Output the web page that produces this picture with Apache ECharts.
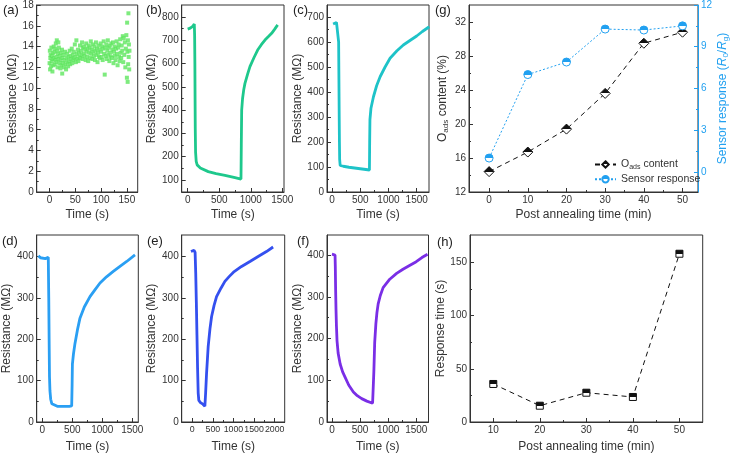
<!DOCTYPE html>
<html>
<head>
<meta charset="utf-8">
<script src="https://cdn.jsdelivr.net/npm/echarts@6/dist/echarts.min.js"></script>
<style>
html, body { margin: 0; padding: 0; background: #fff; }
#chart { width: 732px; height: 456px; }
</style>
</head>
<body>
<div id="chart"></div>
<script>
// (a) resistance in air, noisy scatter [time s, MΩ]
const aPoints = [
  [0,12.4],[0.5,13.6],[1,11.8],[1.5,12.9],[2,13.2],[3,12.1],[3.5,13.9],[4,12.6],[5,13.1],[5.5,11.6],
  [6,12.8],[7,13.4],[7.5,12.2],[8,14.0],[9,12.9],[9.5,13.5],[10,12.3],[11,13.8],[11.5,12.7],[12,14.3],
  [13,13.0],[13.5,12.5],[14,14.6],[15,13.6],[15.5,12.0],[16,13.3],[17,14.4],[17.5,12.8],[18,13.9],[19,12.4],
  [20,13.1],[21,11.9],[21.5,12.7],[22,13.4],[23,12.2],[24,13.7],[24.5,11.4],[25,12.9],[26,12.4],[27,13.2],
  [28,12.0],[29,12.7],[30,13.5],[31,12.3],[32,11.8],[33,12.9],[34,13.3],[35,12.5],[36,12.1],[37,13.0],
  [38,12.6],[39,13.6],[40,12.3],[41,13.1],[42,12.8],[43,13.8],[44,12.4],[45,13.2],[46,12.7],[47,13.5],
  [48,12.9],[49,14.2],[50,13.0],[51,12.5],[52,14.6],[53,13.3],[54,12.8],[55,13.7],[56,12.6],[57,13.4],
  [58,13.0],[59,14.1],[60,12.9],[61,13.6],[62,13.2],[63,14.4],[64,12.8],[65,13.9],[66,13.3],[67,14.0],
  [68,13.1],[69,13.7],[70,12.7],[71,14.3],[72,13.5],[73,13.0],[74,13.8],[75,12.6],[76,14.1],[77,13.4],
  [78,13.9],[79,12.9],[80,14.5],[81,13.3],[82,13.7],[83,12.8],[84,14.2],[85,13.5],[86,13.1],[87,14.0],
  [88,12.7],[89,13.6],[90,14.4],[91,13.2],[92,13.8],[93,12.5],[94,13.4],[95,14.1],[96,13.0],[97,13.7],
  [98,12.9],[99,14.3],[100,13.5],[101,13.0],[102,14.0],[103,12.7],[104,13.8],[105,14.5],[106,13.3],[107,11.3],
  [108,13.9],[109,13.1],[110,14.2],[111,12.8],[112,13.6],[113,14.6],[114,13.2],[115,13.9],[116,12.6],[117,14.1],
  [118,13.4],[119,13.0],[120,14.3],[121,12.9],[122,13.7],[123,14.4],[124,12.4],[125,13.5],[126,14.0],[127,13.1],
  [128,12.7],[129,13.8],[130,14.5],[131,13.3],[132,12.2],[133,13.9],[134,14.2],[135,13.0],[136,12.6],[137,14.7],
  [138,13.4],[139,12.9],[140,14.1],[141,13.6],[142,15.0],[143,12.5],[144,14.8],[145,13.2],[146,14.4],[147,12.0],
  [148,13.8],[149,15.1],[150,11.0],[150.5,16.3],[151,13.5],[151.5,10.6],[152,14.6],[152.5,12.3],[153,17.2],[153.5,13.0],
  [154,14.2],[154.5,11.8],[155,13.6]
];

// (b)-(f) response / recovery curves [time s, MΩ]
const bPoints = [
  [0,748],[40,752],[80,760],[105,770],[110,720],[114,600],[117,450],[120,320],[125,220],[135,180],
  [150,165],[200,152],[326,136],[450,127],[591,120],[750,110],[845,104],[850,250],[856,400],[870,450],
  [890,490],[908,515],[950,555],[987,587],[1050,625],[1109,658],[1170,682],[1225,701],[1280,716],[1331,730],
  [1380,748],[1426,766]
];
const cPoints = [
  [20,672],[50,680],[80,678],[110,675],[118,600],[123,450],[128,300],[132,200],[136,130],[145,106],
  [200,103],[300,99],[400,96],[500,93],[600,90],[663,88],[667,200],[672,290],[690,335],[734,381],
  [790,425],[852,461],[940,500],[1028,535],[1150,565],[1263,588],[1380,606],[1499,624],[1600,642],[1721,661]
];
const dPoints = [
  [-65,402],[-30,397],[0,396],[50,395],[100,398],[108,300],[114,200],[120,110],[128,75],[140,55],
  [160,44],[183,40],[250,38],[350,38],[450,38],[490,39],[497,90],[502,140],[520,165],[545,190],
  [585,222],[628,251],[700,278],[795,303],[880,320],[962,336],[1070,351],[1183,364],[1300,377],[1407,388],
  [1545,404]
];
const ePoints = [
  [-30,412],[10,412],[45,415],[70,410],[85,360],[100,290],[115,210],[130,130],[145,70],[160,52],
  [200,47],[260,43],[307,38],[325,70],[348,118],[387,182],[430,225],[470,255],[530,282],[590,303],
  [700,324],[792,340],[900,352],[1000,362],[1196,376],[1400,388],[1598,400],[1800,412],[1961,423]
];
const fPoints = [
  [0,402],[30,402],[55,400],[60,370],[65,320],[72,270],[80,230],[90,195],[110,165],[146,139],
  [190,120],[235,107],[300,88],[381,72],[450,63],[529,56],[620,50],[723,45],[735,46],[745,120],
  [760,190],[781,235],[800,262],[822,283],[860,303],[910,322],[1028,342],[1150,356],[1263,366],[1380,375],
  [1499,384],[1600,394],[1700,402]
];

// (g) O_ads content and sensor response vs post annealing time
const gTime = [0, 10, 20, 30, 40, 50];
const gOads = [14.4, 16.7, 19.4, 23.6, 29.5, 30.8];
const gResponse = [1.0, 7.0, 7.9, 10.27, 10.2, 10.5];

// (h) response time vs post annealing time
const hTime = [10, 20, 30, 40, 50];
const hResponseTime = [35.7, 15.3, 27.5, 23.5, 158];

// tick values
const tickA_x = [0, 50, 100, 150], minorA_x = [-25, 25, 75, 125];
const tickA_y = [0, 2, 4, 6, 8, 10, 12, 14, 16, 18], minorA_y = [1, 3, 5, 7, 9, 11, 13, 15, 17];
const tick1500 = [0, 500, 1000, 1500], minor1500 = [250, 750, 1250];
const tick2000 = [0, 500, 1000, 1500, 2000], minor2000 = [250, 750, 1250, 1750];
const tickB_y = [100, 200, 300, 400, 500, 600, 700, 800], minorB_y = [150, 250, 350, 450, 550, 650, 750];
const tickC_y = [0, 100, 200, 300, 400, 500, 600, 700], minorC_y = [50, 150, 250, 350, 450, 550, 650];
const tickD_y = [0, 100, 200, 300, 400], minorD_y = [50, 150, 250, 350];
const tickG_x = [0, 10, 20, 30, 40, 50], minorG_x = [5, 15, 25, 35, 45];
const tickG_yl = [12, 16, 20, 24, 28, 32], minorG_yl = [14, 18, 22, 26, 30];
const tickG_yr = [0, 3, 6, 9, 12], minorG_yr = [-1.5, 1.5, 4.5, 7.5, 10.5];
const tickH_x = [10, 20, 30, 40, 50], minorH_x = [15, 25, 35, 45];
const tickH_y = [0, 50, 100, 150], minorH_y = [25, 75, 125];

const FONT = '"Liberation Sans", Arial, sans-serif';
const INK = '#333';
const BLUE = '#21a0f0';

const chart = echarts.init(document.getElementById('chart'));

const grids = [];
const xAxes = [];
const yAxes = [];
const series = [];

const subRich = (color, size) => ({
  n: { fontSize: size, fontFamily: FONT, color, lineHeight: size + 2 },
  i: { fontSize: size, fontFamily: FONT, color, lineHeight: size + 2, fontStyle: 'italic' },
  s: { fontSize: size * 0.67, fontFamily: FONT, color, lineHeight: size * 0.67, verticalAlign: 'bottom' }
});

// main axis (labels + major ticks) and an overlaid one for minor ticks
function addAxes(list, gridIndex, cfg) {
  const color = cfg.color || INK;
  list.push({
    type: 'value', gridIndex, min: cfg.min, max: cfg.max, position: cfg.position,
    name: cfg.name, nameLocation: 'middle', nameGap: cfg.nameGap,
    nameTextStyle: { fontSize: 12, color, fontFamily: FONT, rich: subRich(color, 12) },
    axisLine: { show: true, onZero: false, lineStyle: { color, width: 1 } },
    axisTick: { show: true, inside: true, length: 4, customValues: cfg.majors, lineStyle: { color } },
    axisLabel: {
      show: true, customValues: cfg.majors, fontSize: cfg.labelSize || 10, color, margin: 3, fontFamily: FONT,
      hideOverlap: false, formatter: (v) => String(v)
    },
    splitLine: { show: false }
  });
  const idx = list.length - 1;
  list.push({
    type: 'value', gridIndex, min: cfg.min, max: cfg.max, position: cfg.position,
    axisLine: { show: false, onZero: false },
    axisTick: { show: true, inside: true, length: 2, customValues: cfg.minors, lineStyle: { color } },
    axisLabel: { show: false },
    splitLine: { show: false }
  });
  return idx;
}

function panel(box, x, y) {
  grids.push({
    left: box[0], top: box[1], width: box[2], height: box[3],
    show: true, borderColor: INK, borderWidth: 1, backgroundColor: 'transparent'
  });
  const g = grids.length - 1;
  const xi = addAxes(xAxes, g, Object.assign({ position: 'bottom', name: 'Time (s)', nameGap: 17 }, x));
  const yi = addAxes(yAxes, g, Object.assign({ position: 'left', name: 'Resistance (MΩ)' }, y));
  return { g, xi, yi };
}

function curve(p, data, color) {
  series.push({
    type: 'line', xAxisIndex: p.xi, yAxisIndex: p.yi, data,
    symbol: 'none', lineStyle: { color, width: 2.8 }, silent: true
  });
}

// half filled marker, top half solid like Origin's "half up" symbols
const halfFill = (c) => new echarts.graphic.LinearGradient(0, 0, 0, 1, [
  { offset: 0, color: c }, { offset: 0.5, color: c },
  { offset: 0.5, color: '#fff' }, { offset: 1, color: '#fff' }
]);

/*
* Top row
*/
const pa = panel([36.7, 5, 101, 187],
  { min: -25, max: 171, majors: tickA_x, minors: minorA_x },
  { min: 0, max: 18, majors: tickA_y, minors: minorA_y, nameGap: 17 });
series.push({
  type: 'scatter', xAxisIndex: pa.xi, yAxisIndex: pa.yi, data: aPoints,
  symbol: 'emptyRect', symbolSize: 2, itemStyle: { color: '#5ee65e', borderWidth: 0.7 }, silent: true
});

const pb = panel([181.7, 5, 102.3, 187],
  { min: -95, max: 1527, majors: tick1500, minors: minor1500 },
  { min: 48.5, max: 851.5, majors: tickB_y, minors: minorB_y, nameGap: 22 });
curve(pb, bPoints, '#1ec88c');

const pc = panel([327, 5, 102, 187],
  { min: -88, max: 1717, majors: tick1500, minors: minor1500 },
  { min: 0, max: 748, majors: tickC_y, minors: minorC_y, nameGap: 21 });
curve(pc, cPoints, '#1ec3c8');

// (g) double y axis
grids.push({ left: 469, top: 5, width: 229, height: 187, show: true, borderColor: INK, borderWidth: 1, backgroundColor: 'transparent' });
const gg = grids.length - 1;
const gx = addAxes(xAxes, gg, { position: 'bottom', min: -5.2, max: 54, majors: tickG_x, minors: minorG_x,
  name: 'Post annealing time (min)', nameGap: 17 });
const gyl = addAxes(yAxes, gg, { position: 'left', min: 12, max: 34, majors: tickG_yl, minors: minorG_yl,
  name: '{n|O}{s|ads}{n| content (%)}', nameGap: 19 });
const gyr = addAxes(yAxes, gg, { position: 'right', min: -1.44, max: 12, majors: tickG_yr, minors: minorG_yr,
  color: BLUE, name: '{n|Sensor response (}{i|R}{s|0}{n|/}{i|R}{s|g}{n|)}', nameGap: 18 });

series.push({
  name: 'Oads', type: 'line', xAxisIndex: gx, yAxisIndex: gyl,
  data: gTime.map((t, i) => [t, gOads[i]]),
  symbol: 'diamond', symbolSize: 10,
  itemStyle: { color: halfFill('#111'), borderColor: '#111', borderWidth: 1 },
  lineStyle: { color: '#111', width: 1, type: [5, 4] }
});
series.push({
  name: 'Sensor', type: 'line', xAxisIndex: gx, yAxisIndex: gyr,
  data: gTime.map((t, i) => [t, gResponse[i]]),
  symbol: 'circle', symbolSize: 8,
  itemStyle: { color: halfFill(BLUE), borderColor: BLUE, borderWidth: 1 },
  lineStyle: { color: BLUE, width: 1, type: [2, 2] }
});

/*
* Bottom row
*/
const pd = panel([36.7, 235, 101.6, 187],
  { min: -93, max: 1600, majors: tick1500, minors: minor1500, nameGap: 19 },
  { min: 0, max: 452, majors: tickD_y, minors: minorD_y, nameGap: 22 });
curve(pd, dPoints, '#2a9ff3');

// labels of (e) are packed tight, as in the original
const pe = panel([181.7, 235, 103, 187],
  { min: -255, max: 2242, majors: tick2000, minors: minor2000, nameGap: 19, labelSize: 8.8 },
  { min: 0, max: 452, majors: tickD_y, minors: minorD_y, nameGap: 20 });
curve(pe, ePoints, '#3450ef');

const pf = panel([327, 235, 101.5, 187],
  { min: -88, max: 1717, majors: tick1500, minors: minor1500, nameGap: 19 },
  { min: 0, max: 448, majors: tickD_y, minors: minorD_y, nameGap: 22 });
curve(pf, fPoints, '#7a2ee6');

// (h)
grids.push({ left: 470, top: 235, width: 232.7, height: 187, show: true, borderColor: INK, borderWidth: 1, backgroundColor: 'transparent' });
const hg = grids.length - 1;
const hx = addAxes(xAxes, hg, { position: 'bottom', min: 5, max: 55, majors: tickH_x, minors: minorH_x,
  name: 'Post annealing time (min)', nameGap: 19 });
const hy = addAxes(yAxes, hg, { position: 'left', min: 0, max: 175.6, majors: tickH_y, minors: minorH_y,
  name: 'Response time (s)', nameGap: 22 });
series.push({
  type: 'line', xAxisIndex: hx, yAxisIndex: hy,
  data: hTime.map((t, i) => [t, hResponseTime[i]]),
  symbol: 'rect', symbolSize: 7,
  itemStyle: { color: halfFill('#111'), borderColor: '#111', borderWidth: 1 },
  lineStyle: { color: '#111', width: 1, type: [5, 4] }
});

const panelLabels = [['(a)', 3, 4], ['(b)', 146, 4], ['(c)', 293, 4], ['(g)', 435, 4],
  ['(d)', 2, 235], ['(e)', 147, 235], ['(f)', 297, 235], ['(h)', 437, 236]];

chart.setOption({
  animation: false,
  textStyle: { fontFamily: FONT },
  grid: grids,
  xAxis: xAxes,
  yAxis: yAxes,
  legend: {
    data: ['Oads', 'Sensor'], orient: 'vertical', left: 589, top: 154,
    itemWidth: 21, itemHeight: 8, itemGap: 3,
    formatter: (name) => name === 'Oads' ? '{n|O}{s|ads}{n| content}' : '{n|Sensor response}',
    textStyle: { rich: subRich(INK, 10.5) }
  },
  graphic: panelLabels.map(([text, x, y]) => ({
    type: 'text', left: x, top: y,
    style: { text, font: '13px ' + FONT, fill: '#222' }
  })),
  series: series
});
</script>
</body>
</html>
